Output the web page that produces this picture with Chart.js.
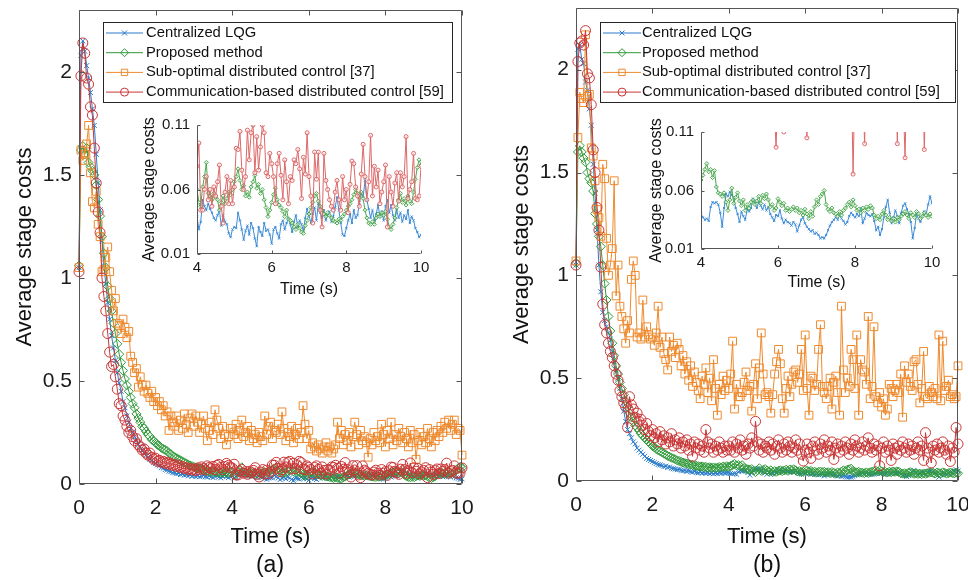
<!DOCTYPE html>
<html>
<head>
<meta charset="utf-8">
<script src="https://cdn.jsdelivr.net/npm/chart.js@4.4.1/dist/chart.umd.min.js"></script>
<style>
  html, body { margin: 0; padding: 0; background: #fff; overflow: hidden; }
  #fig { position: relative; width: 968px; height: 580px; font-family: "Liberation Sans", Arial, sans-serif; }
  canvas { position: absolute; }
  .cap { position: absolute; font-size: 23px; line-height: 23px; color: #111; transform: translateX(-50%); }
</style>
</head>
<body>
<div id="fig">
  <canvas id="mainA" width="480" height="580" style="left:0;top:0"></canvas>
  <canvas id="mainB" width="471" height="580" style="left:497px;top:0"></canvas>
  <canvas id="insetA" width="300" height="200" style="left:130px;top:108px"></canvas>
  <canvas id="insetB" width="310" height="190" style="left:635px;top:112px"></canvas>
  <div class="cap" style="left:270px;top:553px">(a)</div>
  <div class="cap" style="left:767px;top:553px">(b)</div>
</div>
<script>
// sample period of the simulation (s); every series holds t = 0 ... 10
const DT = 0.05;
const INSET_FROM = 80; // index of t = 4 s

const mainXTicks = [0, 2, 4, 6, 8, 10];
const mainYTicks = [0, 0.5, 1, 1.5, 2];
const insetXTicks = [4, 6, 8, 10];
const insetYTicks = [0.01, 0.06, 0.11];

const seriesNames = [
  'Centralized LQG',
  'Proposed method',
  'Sub-optimal distributed control [37]',
  'Communication-based distributed control [59]'
];

// ---- panel (a) ----
const lqgA = [
  1.05,2.08,2.15,2.10,2.03,1.97,1.90,1.82,1.74,1.60, 1.46,1.33,1.18,1.06,0.97,0.88,0.80,0.72,0.66,0.60,
  0.54,0.49,0.45,0.40,0.37,0.33,0.30,0.27,0.25,0.23, 0.21,0.19,0.18,0.165,0.15,0.14,0.13,0.12,0.115,0.105,
  0.10,0.093,0.088,0.08,0.077,0.07,0.068,0.062,0.06,0.055, 0.054,0.05,0.052,0.046,0.048,0.043,0.045,0.040,0.044,0.038,
  0.041,0.036,0.040,0.035,0.038,0.042,0.036,0.033,0.039,0.035, 0.031,0.037,0.040,0.034,0.030,0.036,0.041,0.035,0.031,0.036,
  .039,.029,.035,.052,.047,.044,.049,.045,.042,.038,.036,.040,.044,.032,.040,.035,.033,
  .026,.023,.029,.031,.030,.042,.036,.029,.021,.028,.032,.025,.034,.030,.022,.016,.031,.027,.024,.034,.028,.029,.025,.018,.029,.031,.026,.022,
  .033,.036,.029,.034,.038,.033,.027,.035,.040,.031,.036,.033,.028,.038,.045,.040,.034,.041,.046,.036,.049,.042,
  .038,.044,.036,.040,.043,.035,.039,.046,.054,.044,.034,.025,.024,.030,
  .036,.041,.034,.044,.038,.040,.050,.057,.054,.067,
  .052,.045,.038,.044,.036,.041,.048,.039,.043,.036,.047,.052,.042,.048,.040,.036,.044,.038,
  .042,.035,.040,.037,.044,.034,.039,.036,.030,.027,.023,.025
];
const proposedA = [
  1.06,1.62,1.64,1.60,1.63,1.56,1.54,1.52,1.50,1.45, 1.38,1.30,1.20,1.12,1.05,0.96,0.90,0.84,0.78,0.73,
  0.68,0.63,0.59,0.55,0.51,0.48,0.45,0.42,0.39,0.37, 0.34,0.32,0.30,0.28,0.27,0.255,0.24,0.23,0.215,0.21,
  0.20,0.19,0.185,0.175,0.17,0.165,0.16,0.15,0.145,0.135, 0.13,0.125,0.12,0.115,0.11,0.105,0.10,0.095,0.09,0.087,
  0.083,0.08,0.077,0.073,0.07,0.068,0.066,0.063,0.06,0.062, 0.058,0.061,0.056,0.059,0.055,0.057,0.053,0.058,0.055,0.057,
  .060,.050,.047,.062,.070,.081,.057,.055,.052,.057,.054,
  .052,.044,.050,.055,.049,.053,.058,.056,.060,.066,.070,.076,
  .067,.060,.063,.055,.058,.054,.062,.066,.071,.061,.064,.057,.060,
  .052,.046,.039,.044,.050,.056,.061,.052,.048,
  .046,.043,.039,.044,.037,.036,.034,.031,.029,.033,.030,.027,.026,
  .032,.036,.041,.046,.050,.055,.057,.051,.047,
  .044,.041,.039,.042,.040,.038,.036,.035,.034,.037,
  .036,.039,.041,.044,.047,.049,.052,.056,.060,.057,.054,.058,
  .053,.044,.038,.034,.033,.035,.033,.038,.041,.039,.042,.040,.043,
  .037,.031,.029,.033,.038,.046,.052,.057,.050,.053,.048,.055,.051,.049,
  .058,.068,.077,.083,.079
];
const subOptA = [
  1.05,1.62,1.57,1.60,1.65,1.74,1.51,1.37,1.34,1.42, 1.26,1.20,1.03,1.04,1.10,1.15,1.03,0.94,0.84,0.90,
  0.78,0.77,0.73,0.80,0.76,0.71,0.74,0.62,0.59,0.54, 0.56,0.47,0.52,0.48,0.45,0.48,0.44,0.42,0.45,0.40,
  0.42,0.38,0.40,0.36,0.38,0.33,0.35,0.26,0.33,0.30, 0.28,0.33,0.26,0.31,0.27,0.34,0.29,0.25,0.32,0.34,
  0.28,0.33,0.30,0.25,0.29,0.33,0.27,0.21,0.26,0.30, 0.24,0.36,0.31,0.27,0.22,0.28,0.24,0.19,0.23,0.27,
  .27,.24,.29,.22,.26,.31,.23,.25,.28,.21, .26,.22,.24,.20,.25,.23,.21,
  .33,.24,.28,.30,.22,.26,.25,.29,.24,.35, .27,.21,.25,.23,.28,.20,.24,.27,.22,.25,.38,
  .29,.22,.26, .17,.20,.18,.16,.19,.17,.15,.18,.20,.16,.18,.15,.17,.19,.30,
  .22,.26,.19,.24,.21,.25,.18,.23, .30,.24,.19,.26,.21,.23,.20,.13,
  .22,.19,.25,.21,.23,.20,.29,.24,.18,.26,.22, .30,.19,.24,.21,.27,.23,.20,.25,
  .22,.18,.26,.20,.24,.12,.21,.25,.19, .23,.20,.27,.22,.18,.25,.21,.26,.23,
  .28,.25,.30,.27,.31,.26,.29,.31,.24, .27,.26,.14
];
const commA = [
  1.03,1.98,2.14,2.09,1.97,1.94,1.83,1.79,1.63,1.46, 1.32,1.22,1.00,0.91,0.84,0.73,0.64,0.57,0.58,0.52,
  0.46,0.39,0.38,0.33,0.31,0.28,0.25,0.26,0.23,0.21, 0.22,0.19,0.18,0.165,0.17,0.15,0.14,0.15,0.13,0.12,
  0.125,0.11,0.115,0.105,0.11,0.10,0.105,0.095,0.10,0.09, 0.095,0.085,0.09,0.08,0.085,0.075,0.08,0.07,0.075,0.068,
  0.072,0.065,0.078,0.07,0.083,0.075,0.068,0.088,0.08,0.074, 0.085,0.07,0.09,0.095,0.08,0.07,0.085,0.10,0.09,0.082,
  .078,.096,.044,.044,.060,.070,.052,.060,.047,.062, .055,.066,.079,.047,.034,.058,.070,.049,.067,.049,
  .062,.092,.091,.105,.075,.060,.070,.106,.083,.104, .110,.073,.101,.075,.093,.110,.104,.073,.070,.088,
  .080,.070,.049,.080,.088,.071,.052,.083,.066,.049, .070,.067,.083,.080,.091,.076,.053,.085,.072,.104,
  .070,.055,.034,.089,.068,.089,.044,.031,.088,.067, .060,.052,.047,.044,.058,.067,.052,.044,.070,.052,
  .060,.042,.064,.082,.080,.062,.055,.047,.072,.095, .070,.052,.066,.102,.055,.078,.062,.075,.049,.058,
  .066,.079,.031,.070,.058,.047,.065,.073,.051,.073, .062,.070,.101,.053,.060,.066,.088,.053,.052,.055,
  .078
];

// ---- panel (b) ----
const lqgB = [
  1.05,2.10,2.12,2.05,2.03,1.94,1.90,1.81,1.73,1.54, 1.40,1.22,1.05,0.92,0.82,0.78,0.75,0.72,0.69,0.63,
  0.58,0.54,0.50,0.45,0.40,0.34,0.29,0.25,0.23,0.21, 0.19,0.18,0.16,0.15,0.14,0.13,0.12,0.11,0.105,0.10,
  0.095,0.09,0.085,0.08,0.078,0.075,0.07,0.072,0.066,0.068, 0.062,0.06,0.058,0.055,0.056,0.052,0.05,0.051,0.047,0.049,
  0.045,0.043,0.046,0.042,0.04,0.043,0.039,0.041,0.037,0.04, 0.036,0.039,0.035,0.038,0.036,0.04,0.037,0.041,0.038,0.04,
  .040,.037,.035,.036,.034,.046,.050,.049,.050,.048, .041,.029,.045,.057,.055,.059,.056,.054,.045,.040,
  .033,.042,.038,.035,.044,.042,.045,.053,.049,.045, .050,.047,.044,.048,.043,.046,.040,.037,.034,.039,
  .038,.043,.036,.032,.035,.033,.032,.030,.033,.031, .025,.030,.035,.037,.032,.029,.027,.025,.026,.023,
  .024,.022,.019,.020,.019,.022,.026,.030,.033,.035, .037,.035,.039,.036,.034,.031,.033,.038,.041,.039,
  .037,.040,.038,.045,.032,.036,.041,.039,.038,.040, .034,.026,.029,.022,.027,.037,.046,.052,.041,.032,
  .037,.043,.038,.032,.041,.047,.049,.044,.040,.033, .019,.028,.040,.036,.033,.038,.042,.040,.048,.055,
  .049
];
const proposedB = [
  1.06,1.60,1.63,1.60,1.57,1.55,1.50,1.47,1.45,1.41, 1.30,1.25,1.19,1.14,1.05,0.96,0.88,0.80,0.73,0.67,
  0.61,0.56,0.52,0.48,0.45,0.42,0.39,0.36,0.33,0.31, 0.29,0.27,0.26,0.245,0.23,0.22,0.21,0.20,0.19,0.18,
  0.17,0.165,0.155,0.15,0.145,0.14,0.133,0.128,0.122,0.118, 0.113,0.11,0.105,0.10,0.097,0.093,0.09,0.087,0.085,0.082,
  0.08,0.078,0.076,0.074,0.072,0.07,0.071,0.068,0.069,0.066, 0.067,0.064,0.066,0.063,0.065,0.068,0.066,0.07,0.068,0.072,
  .069,.073,.078,.083,.076,.078,.071,.077,.063,.058, .057,.055,.058,.050,.043,.052,.062,.049,.054,.058,
  .051,.047,.052,.043,.048,.045,.050,.052,.048,.051, .055,.049,.056,.053,.057,.052,.046,.048,.043,.045,
  .053,.050,.047,.049,.043,.045,.042,.044,.046,.043, .045,.041,.043,.039,.044,.040,.036,.042,.038,.046,
  .052,.048,.055,.057,.060,.048,.044,.042,.045,.041, .040,.038,.042,.039,.043,.045,.048,.050,.046,.052,
  .047,.043,.044,.041,.045,.043,.046,.044,.047,.045, .039,.036,.038,.035,.040,.043,.039,.035,.037,.034,
  .036,.033,.037,.035,.038,.040,.042,.039,.036,.041, .039,.037,.042,.040,.036,.038,.041,.039,.037,.040,
  .038
];
const subOptB = [
  1.07,1.67,1.89,1.86,1.84,2.17,1.87,1.88,1.62,1.58, 1.46,1.32,1.28,1.19,1.54,1.47,1.18,1.00,1.05,1.13,
  1.46,0.90,1.05,0.85,0.80,0.74,0.67,0.78,0.72,0.98, 1.07,1.00,0.70,0.72,0.69,0.88,0.70,0.75,0.71,0.69,
  0.70,0.66,0.72,0.85,0.65,0.70,0.62,0.59,0.54,0.70, 0.63,0.66,0.60,0.67,0.64,0.56,0.61,0.52,0.58,0.49,
  0.56,0.46,0.53,0.48,0.44,0.40,0.51,0.47,0.55,0.43, 0.50,0.39,0.59,0.45,0.32,0.47,0.42,0.51,0.44,0.49,
  .45,.52,.68,.35,.47,.41,.41,.43,.48,.53, .44,.46,.34,.47,.57,.40,.55,.72,.52,.42,
  .43,.41,.33,.42,.52,.58,.64,.57,.40,.33, .45,.51,.41,.47,.53,.54,.48,.52,.64,.44,
  .71,.45,.32,.51,.50,.44,.47,.64,.76,.46, .43,.40,.46,.50,.35,.48,.51,.43,.32,.85,
  .54,.43,.50,.46,.64,.59,.45,.71,.32,.59, .54,.53,.47,.80,.40,.46,.75,.41,.38,.43,
  .36,.40,.32,.35,.47,.45,.41,.44,.47,.43, .52,.31,.56,.48,.52,.46,.44,.58,.59,.47,
  .38,.45,.63,.41,.40,.46,.43,.41,.45,.40, .71,.39,.68,.44,.46,.49,.41,.42,.40,.41,
  .56
];
const commB = [
  1.05,2.04,2.13,2.14,2.12,2.19,1.98,1.96,1.83,1.61, 1.50,1.33,1.22,1.04,0.86,0.76,0.72,0.67,0.63,0.60,
  0.56,0.52,0.49,0.44,0.41,0.38,0.36,0.26,0.41,0.37, 0.35,0.31,0.33,0.29,0.30,0.27,0.25,0.28,0.24,0.22,
  0.25,0.21,0.23,0.19,0.24,0.20,0.22,0.18,0.21,0.19, 0.23,0.17,0.20,0.18,0.21,0.16,0.19,0.17,0.20,0.15,
  0.18,0.12,0.19,0.16,0.18,0.15,0.17,0.14,0.25,0.19, 0.16,0.18,0.14,0.17,0.15,0.19,0.16,0.14,0.17,0.15,
  .17,.15,.19,.14,.18,.16,.20,.15,.17,.13, .18,.16,.21,.17,.29,.19,.15,.18,.14,.17,
  .16,.19,.15,.18,.13,.17,.20,.16,.14,.18, .15,.19,.17,.14,.16,.20,.15,.18,.13,.097,
  .15,.18,.14,.11,.17,.19,.15,.13,.18,.16, .20,.14,.17,.15,.19,.105,.16,.18,.14,.17,
  .15,.19,.16,.13,.18,.15,.20,.17,.14,.16, .19,.15,.17,.21,.16,.14,.18,.15,.17,.074,
  .16,.19,.14,.17,.15,.10,.18,.16,.13,.17, .15,.19,.16,.14,.18,.15,.17,.13,.16,.19,
  .15,.17,.10,.235,.16,.14,.088,.17,.15,.18, .14,.16,.19,.15,.13,.17,.095,.16,.14,.26,
  .18
];

// line / marker look of each series (same order as seriesNames)
const styles = [
  { color: '#2a7bc9', inset: '#3d8cd6', shape: 'crossRot', r: 3.5, ir: 1.5, lr: 3.5, order: 4 },
  { color: '#30993a', inset: '#4ba84f', shape: 'rectRot',  r: 4.5, ir: 2,   lr: 4,   order: 3 },
  { color: '#ee8a2e', inset: '#ee8a2e', shape: 'rect',     r: 5.5, ir: 2,   lr: 4.5, order: 2 },
  { color: '#c93535', inset: '#dd6868', shape: 'circle',   r: 5,   ir: 2,   lr: 4,   order: 1 }
];

const FONT = "'Liberation Sans', Arial, sans-serif";
Chart.defaults.font.family = FONT;

const pts = (vals, from = 0) =>
  vals.slice(from).map((v, i) => ({ x: +((i + from) * DT).toFixed(2), y: v }));

// axes box with inward ticks (MATLAB look)
const framePlugin = {
  id: 'frame',
  beforeDatasetsDraw(chart, args, o) {
    if (!o.fill) return;
    const a = chart.chartArea, ctx = chart.ctx;
    ctx.save();
    ctx.fillStyle = o.fill;
    ctx.fillRect(a.left, a.top, a.right - a.left, a.bottom - a.top);
    ctx.restore();
  },
  afterDatasetsDraw(chart, args, o) {
    const { ctx, chartArea: a, scales: { x, y } } = chart;
    const L = Math.round(a.left) + 0.5, R = Math.round(a.right) - 0.5;
    const T = Math.round(a.top) + 0.5, B = Math.round(a.bottom) - 0.5;
    ctx.save();
    ctx.strokeStyle = o.color;
    ctx.lineWidth = 1;
    ctx.beginPath();
    if (o.box) {
      ctx.rect(L, T, R - L, B - T);
    } else {
      ctx.moveTo(L, T); ctx.lineTo(L, B); ctx.lineTo(R, B);
    }
    x.ticks.forEach(t => {
      const px = Math.round(x.getPixelForValue(t.value)) + 0.5;
      ctx.moveTo(px, B); ctx.lineTo(px, B - o.tick);
      if (o.box) { ctx.moveTo(px, T); ctx.lineTo(px, T + o.tick); }
    });
    y.ticks.forEach(t => {
      const py = Math.round(y.getPixelForValue(t.value)) + 0.5;
      ctx.moveTo(L, py); ctx.lineTo(L + o.tick, py);
      if (o.box) { ctx.moveTo(R, py); ctx.lineTo(R - o.tick, py); }
    });
    ctx.stroke();
    ctx.restore();
  }
};

// boxed legend drawn inside the plot area
const boxLegend = {
  id: 'boxLegend',
  afterDraw(chart, args, o) {
    if (!o.w) return;
    const ctx = chart.ctx;
    ctx.save();
    ctx.fillStyle = '#fff';
    ctx.fillRect(o.x, o.y, o.w, o.h);
    ctx.strokeStyle = '#262626';
    ctx.lineWidth = 1;
    ctx.strokeRect(o.x + 0.5, o.y + 0.5, o.w, o.h);
    chart.data.datasets.forEach((ds, i) => {
      const cy = o.y + o.first + i * o.row;
      ctx.strokeStyle = ds.borderColor;
      ctx.lineWidth = 1;
      ctx.beginPath();
      ctx.moveTo(o.x + o.l0, cy);
      ctx.lineTo(o.x + o.l1, cy);
      ctx.stroke();
      ctx.fillStyle = 'rgba(0,0,0,0)';
      Chart.helpers.drawPoint(ctx, { pointStyle: ds.pointStyle, radius: ds.legendRadius, borderWidth: 1, rotation: 0 },
        o.x + (o.l0 + o.l1) / 2, cy);
      ctx.fillStyle = '#111';
      ctx.font = '14.8px ' + FONT;
      ctx.textBaseline = 'middle';
      ctx.textAlign = 'left';
      ctx.fillText(ds.label, o.x + o.tx, cy);
    });
    ctx.restore();
  }
};

function makeMain(id, series, lay) {
  new Chart(document.getElementById(id), {
    type: 'line',
    data: {
      datasets: series.map((vals, k) => ({
        label: seriesNames[k],
        data: pts(vals),
        borderColor: styles[k].color,
        backgroundColor: 'rgba(0,0,0,0)',
        borderWidth: 1,
        pointStyle: styles[k].shape,
        pointRadius: styles[k].r,
        pointBorderWidth: 1,
        pointBorderColor: styles[k].color,
        pointBackgroundColor: 'rgba(0,0,0,0)',
        legendRadius: styles[k].lr,
        order: styles[k].order,
        clip: false
      }))
    },
    options: {
      responsive: false,
      animation: false,
      events: [],
      layout: { padding: lay.pad },
      plugins: {
        legend: { display: false },
        tooltip: { enabled: false },
        frame: { color: '#555', tick: 5, box: true },
        boxLegend: lay.legend
      },
      scales: {
        x: {
          type: 'linear', min: 0, max: 10,
          afterBuildTicks: s => { s.ticks = mainXTicks.map(v => ({ value: v })); },
          ticks: { font: { size: 21 }, color: '#1a1a1a', padding: 12, maxRotation: 0, autoSkip: false },
          grid: { display: false, drawTicks: false },
          border: { display: false },
          title: { display: true, text: 'Time (s)', font: { size: 22 }, color: '#111', padding: { top: 0, bottom: 0 } },
          afterFit: s => { s.height = lay.xh; s.paddingLeft = 0; s.paddingRight = 0; }
        },
        y: {
          type: 'linear', min: 0, max: 2.3,
          afterBuildTicks: s => { s.ticks = mainYTicks.map(v => ({ value: v })); },
          ticks: { font: { size: 21 }, color: '#1a1a1a', padding: 7, callback: v => String(v) },
          grid: { display: false, drawTicks: false },
          border: { display: false },
          title: { display: true, text: 'Average stage costs', font: { size: 22 }, color: '#111', padding: { top: 12, bottom: 0 } },
          afterFit: s => { s.width = 79; s.paddingTop = 0; s.paddingBottom = 0; }
        }
      }
    },
    plugins: [framePlugin, boxLegend]
  });
}

function makeInset(id, series, lay) {
  new Chart(document.getElementById(id), {
    type: 'line',
    data: {
      datasets: series.map((vals, k) => ({
        data: pts(vals, INSET_FROM),
        borderColor: styles[k].inset,
        backgroundColor: 'rgba(0,0,0,0)',
        borderWidth: 1,
        pointStyle: styles[k].shape,
        pointRadius: styles[k].ir,
        pointBorderWidth: 1,
        pointBorderColor: styles[k].inset,
        pointBackgroundColor: 'rgba(255,255,255,0.5)',
        order: styles[k].order,
        clip: 0
      }))
    },
    options: {
      responsive: false,
      animation: false,
      events: [],
      layout: { padding: { left: 0, top: lay.top, right: lay.right, bottom: 0 } },
      plugins: {
        legend: { display: false },
        tooltip: { enabled: false },
        frame: { color: '#555', tick: 3, box: false, fill: '#fff' }
      },
      scales: {
        x: {
          type: 'linear', min: 4, max: 10,
          afterBuildTicks: s => { s.ticks = insetXTicks.map(v => ({ value: v })); },
          ticks: { font: { size: 15 }, color: '#1a1a1a', padding: 5, maxRotation: 0, autoSkip: false },
          grid: { display: false, drawTicks: false },
          border: { display: false },
          title: { display: true, text: 'Time (s)', font: { size: 16 }, color: '#111', padding: { top: 0, bottom: lay.xtp } },
          afterFit: s => { s.height = lay.xh; s.paddingLeft = 0; s.paddingRight = 0; }
        },
        y: {
          type: 'linear', min: 0.01, max: 0.11,
          afterBuildTicks: s => { s.ticks = insetYTicks.map(v => ({ value: v })); },
          ticks: { font: { size: 15 }, color: '#1a1a1a', padding: 7, callback: v => String(v) },
          grid: { display: false, drawTicks: false },
          border: { display: false },
          title: { display: true, text: 'Average stage costs', font: { size: 16 }, color: '#111', padding: { top: lay.ytp, bottom: 0 } },
          afterFit: s => { s.width = lay.yw; s.paddingTop = 0; s.paddingBottom = 0; }
        }
      }
    },
    plugins: [framePlugin]
  });
}

const panelA = [lqgA, proposedA, subOptA, commA];
const panelB = [lqgB, proposedB, subOptB, commB];

makeMain('mainA', panelA, {
  pad: { left: 0, top: 10, right: 18, bottom: 30 }, xh: 66,
  legend: { x: 103, y: 22, w: 349, h: 80, first: 11, row: 19.7, l0: 3, l1: 40, tx: 43 }
});
makeMain('mainB', panelB, {
  pad: { left: 0, top: 8, right: 10, bottom: 30 }, xh: 69,
  legend: { x: 103, y: 22, w: 355, h: 80, first: 11, row: 19.7, l0: 3, l1: 41, tx: 42 }
});
makeInset('insetA', panelA, { top: 17, right: 9, xh: 54, yw: 67, xtp: 8.4, ytp: 10.4 });
makeInset('insetB', panelB, { top: 20, right: 13, xh: 53, yw: 66, xtp: 9.4, ytp: 12.4 });
</script>
</body>
</html>
